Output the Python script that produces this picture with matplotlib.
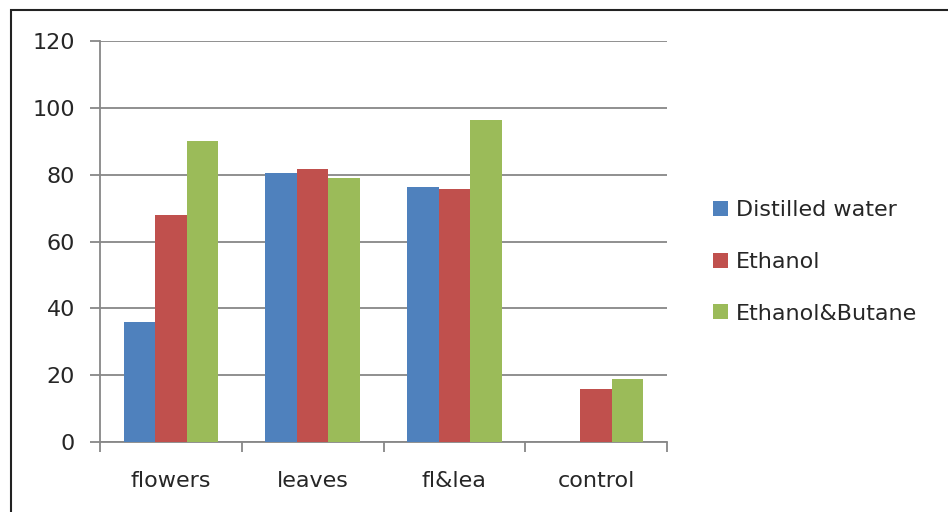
import numpy as np
import matplotlib
matplotlib.use("Agg")
import matplotlib.pyplot as plt
from matplotlib.patches import Rectangle

# --- datos ---
categorias = ["flowers", "leaves", "fl&lea", "control"]
series = ["Distilled water", "Ethanol", "Ethanol&Butane"]
agua = [36, 80.4, 76.4, 0]
etanol = [68, 81.7, 75.8, 15.8]
etanol_butano = [90, 79.1, 96.5, 19]
colores = ["#4F81BD", "#C0504D", "#9BBB59"]

plt.rcParams['font.family'] = ['DejaVu Sans']

fig = plt.figure(figsize=(9.48, 5.12), dpi=100)
ax = fig.add_axes([100 / 948, 1 - 442 / 512, 567 / 948, 401 / 512])

x = np.arange(len(categorias))
ancho = 2 / 9
valores = [agua, etanol, etanol_butano]
for i in range(3):
    ax.bar(x + (i - 1) * ancho, valores[i], width=ancho, color=colores[i],
           label=series[i], zorder=3)

ax.set_xlim(-0.5, len(categorias) - 0.5)
ax.set_ylim(0, 120)
ax.set_yticks(np.arange(0, 121, 20))
ax.yaxis.grid(True, color="#878787", linewidth=1.3, zorder=0)

# ejes y marcas
for lado in ["top", "right"]:
    ax.spines[lado].set_visible(False)
for lado in ["left", "bottom"]:
    ax.spines[lado].set_color("#878787")
    ax.spines[lado].set_linewidth(1.3)

ax.set_xticks(x)
ax.set_xticklabels(categorias)
ax.set_xticks(np.arange(-0.5, len(categorias)), minor=True)
ax.tick_params(axis="x", which="major", length=0, pad=21, labelsize=16, labelcolor="#262626")
ax.tick_params(axis="x", which="minor", length=7, width=1.3, color="#878787", direction="out")
ax.tick_params(axis="y", length=7, width=1.3, color="#878787", pad=11, labelsize=16,
               labelcolor="#262626")

ax.legend(loc="center left", bbox_to_anchor=(1.062, 0.449), frameon=False, fontsize=16,
          borderpad=0, handlelength=0.68, handleheight=0.68, handletextpad=0.35,
          labelspacing=1.42, labelcolor="#262626")

# marco exterior
fig.patches.append(Rectangle((11 / 948, -0.1), 1.2, 1 - 10 / 512 + 0.1, transform=fig.transFigure,
                             fill=False, edgecolor="#222222", linewidth=1.5))

fig.savefig("out.png", dpi=100)
